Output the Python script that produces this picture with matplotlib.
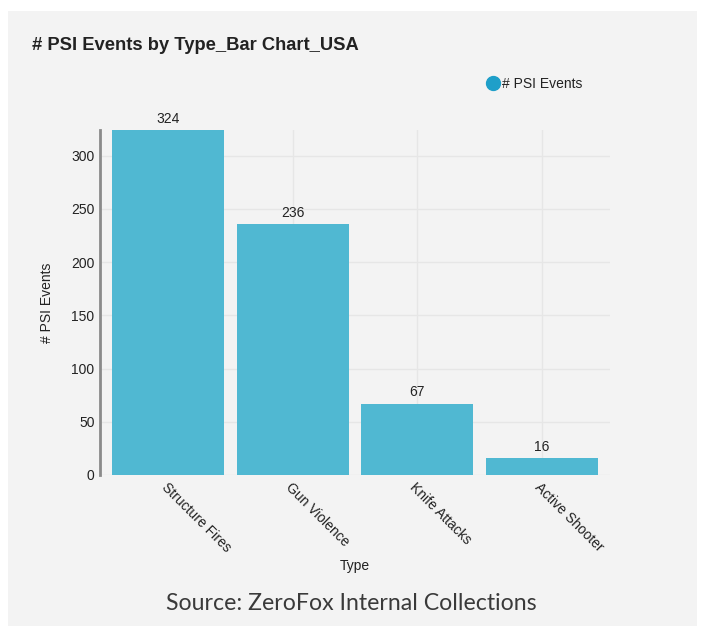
import matplotlib
matplotlib.use("Agg")
import matplotlib.pyplot as plt
from matplotlib.lines import Line2D
from matplotlib.patches import Rectangle

# Data
categories = ["Structure Fires", "Gun Violence", "Knife Attacks", "Active Shooter"]
events = [324, 236, 67, 16]
y_ticks = [0, 50, 100, 150, 200, 250, 300]

title = "# PSI Events by Type_Bar Chart_USA"
series_name = "# PSI Events"
source = "Source: ZeroFox Internal Collections"

bar_color = "#50b8d2"
marker_color = "#1f9fc9"
panel_color = "#f3f3f3"
grid_color = "#e6e6e6"
text_color = "#222222"

plt.rcParams["font.family"] = ["Liberation Sans", "DejaVu Sans"]

W, H = 702, 631
fig = plt.figure(figsize=(W / 100, H / 100), dpi=100)
fig.patch.set_facecolor("white")

# Light grey card behind the chart
fig.patches.append(Rectangle((8 / W, 5 / H), (697 - 8) / W, (620 - 5) / H,
                             transform=fig.transFigure, facecolor=panel_color,
                             edgecolor="none", zorder=-10))

ax = fig.add_axes([100 / W, (H - 475) / H, (610 - 100) / W, (475 - 130) / H])
ax.set_zorder(5)
ax.set_facecolor(panel_color)

x = list(range(len(categories)))
bars = ax.bar(x, events, width=0.9, color=bar_color, zorder=3)
ax.bar_label(bars, labels=[str(v) for v in events], padding=3,
             fontsize=10, color=text_color)

ax.set_xlim(-0.55, 3.55)
ax.set_ylim(0, 324)
ax.set_yticks(y_ticks)
ax.set_xticks(x)
ax.set_xticklabels(categories, rotation=-45, ha="left", va="top",
                   rotation_mode="anchor", fontsize=10, color=text_color)
ax.tick_params(axis="x", length=0, pad=4)
ax.tick_params(axis="y", length=0, pad=4, labelsize=10, labelcolor=text_color)

ax.grid(True, color=grid_color, linewidth=1, zorder=0)
for side in ("top", "right", "bottom"):
    ax.spines[side].set_visible(False)
ax.spines["left"].set_color("#8a8a8a")
ax.spines["left"].set_linewidth(2)

ax.set_xlabel("Type", fontsize=10, color=text_color, labelpad=3)
ax.set_ylabel(series_name, fontsize=10, color=text_color, labelpad=12)

fig.text(32 / W, 1 - 45 / H, title, fontsize=13.2, fontweight="bold",
         color=text_color, va="center", ha="left")

handle = Line2D([], [], marker="o", linestyle="none", markersize=10,
                markerfacecolor=marker_color, markeredgecolor=marker_color)
fig.legend([handle], [series_name], loc="center left",
           bbox_to_anchor=(485 / W, 1 - 84 / H), frameon=False,
           handletextpad=0.0, handlelength=1.2, fontsize=10,
           labelcolor=text_color, borderaxespad=0, borderpad=0)

fig.text(351 / W, 1 - 604 / H, source, fontsize=16.7, color="#3a3a3a",
         ha="center", va="center", family=["Lato", "DejaVu Sans"])

fig.savefig("out.png", dpi=100, facecolor=fig.get_facecolor())
